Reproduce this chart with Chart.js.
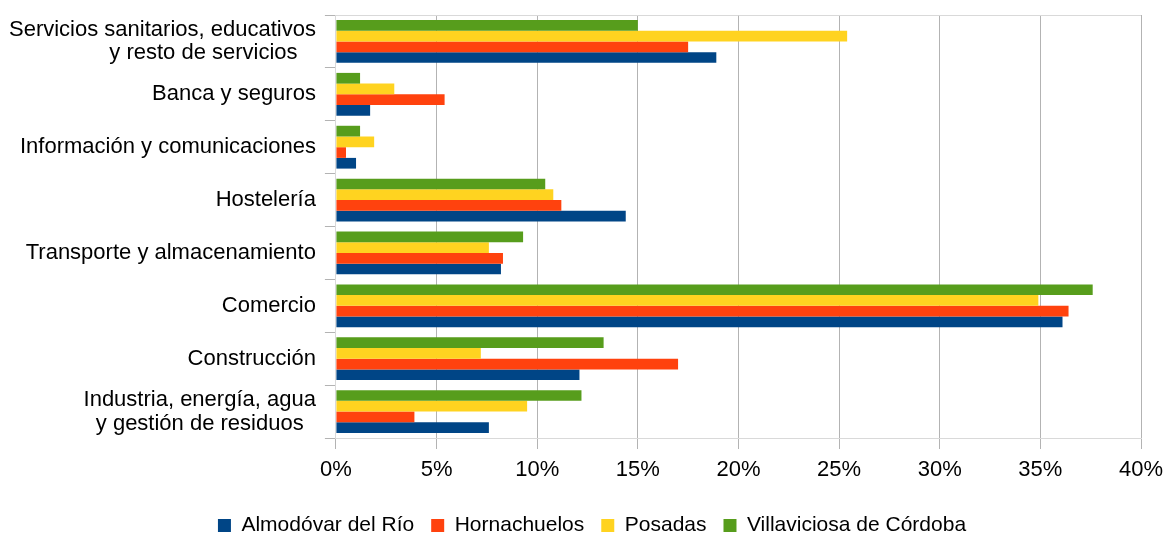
<!doctype html>
<html>

<head>
    <title>Ocupados por sector</title>
    <script src="https://cdn.jsdelivr.net/npm/chart.js"></script>
</head>

<style>
    body {
        margin: 0;
        background-color: #fff;
    }

    .chart-box {
        width: 1166px;
        height: 535px;
    }
</style>

<body>

    <div class="chart-box">
        <canvas id="sectores"></canvas>
    </div>

    <script>

        // categorias (de arriba a abajo)
        var sectores = [
            ['Servicios sanitarios, educativos', 'y resto de servicios   '],
            'Banca y seguros',
            'Información y comunicaciones',
            'Hostelería',
            'Transporte y almacenamiento',
            'Comercio',
            'Construcción',
            ['Industria, energía, agua', 'y gestión de residuos  ']
        ];

        // % por municipio
        var almodovar = [18.9, 1.7, 1.0, 14.4, 8.2, 36.1, 12.1, 7.6];
        var hornachuelos = [17.5, 5.4, 0.5, 11.2, 8.3, 36.4, 17.0, 3.9];
        var posadas = [25.4, 2.9, 1.9, 10.8, 7.6, 34.9, 7.2, 9.5];
        var villaviciosa = [15.0, 1.2, 1.2, 10.4, 9.3, 37.6, 13.3, 12.2];

        var ticksX = [0, 5, 10, 15, 20, 25, 30, 35, 40];

        var fuente = { family: '"Liberation Sans", Arial, sans-serif', size: 22 };
        var gris = '#b3b3b3';
        var grisClaro = '#d9d9d9';

        // mueve la leyenda para que quede como en el original
        var ajusteLeyenda = {
            id: 'ajusteLeyenda',
            afterLayout: (chart) => {
                var l = chart.legend;
                l.left += 43;
                l.top += 11;
                l.bottom += 11;
            }
        };

        var grafico = new Chart(document.getElementById('sectores').getContext('2d'), {
            type: 'bar',
            data: {
                labels: sectores,
                // orden inverso para que Almodóvar quede abajo en cada grupo
                datasets: [
                    { label: 'Villaviciosa de Córdoba', data: villaviciosa, backgroundColor: '#579d1c' },
                    { label: 'Posadas', data: posadas, backgroundColor: '#ffd320' },
                    { label: 'Hornachuelos', data: hornachuelos, backgroundColor: '#ff420e' },
                    { label: 'Almodóvar del Río', data: almodovar, backgroundColor: '#004586' }
                ]
            },
            plugins: [ajusteLeyenda],
            options: {
                indexAxis: 'y',
                responsive: true,
                maintainAspectRatio: false,
                animation: false,
                categoryPercentage: 0.81,
                barPercentage: 1.0,
                layout: {
                    padding: { top: 15, right: 25, left: 0, bottom: 0 }
                },
                plugins: {
                    tooltip: { enabled: false },
                    legend: {
                        position: 'bottom',
                        reverse: true,
                        labels: {
                            boxWidth: 13,
                            boxHeight: 13,
                            padding: 17,
                            color: '#000',
                            font: { family: fuente.family, size: 21 }
                        }
                    }
                },
                scales: {
                    x: {
                        min: 0,
                        max: 40,
                        afterBuildTicks: (eje) => {
                            eje.ticks = ticksX.map(v => ({ value: v }));
                        },
                        afterFit: (eje) => {
                            eje.paddingLeft = 0;
                            eje.paddingRight = 0;
                            eje.height = 49;
                        },
                        border: { color: grisClaro, width: 1 },
                        grid: {
                            color: gris,
                            tickColor: gris,
                            tickLength: 11,
                            lineWidth: 1
                        },
                        ticks: {
                            color: '#000',
                            padding: 8,
                            font: fuente,
                            callback: (v) => v + '%'
                        }
                    },
                    y: {
                        afterFit: (eje) => {
                            eje.paddingTop = 0;
                            eje.paddingBottom = 0;
                        },
                        border: { color: grisClaro, width: 1 },
                        grid: {
                            // solo bordes superior e inferior dentro del area
                            color: (ctx) => (ctx.index === 0 || ctx.index === undefined) ? grisClaro : 'rgba(0,0,0,0)',
                            tickColor: gris,
                            tickLength: 11,
                            lineWidth: 1
                        },
                        ticks: {
                            autoSkip: false,
                            color: '#000',
                            padding: 9,
                            font: Object.assign({ lineHeight: 1.08 }, fuente)
                        }
                    }
                }
            }
        });

    </script>
</body>

</html>
